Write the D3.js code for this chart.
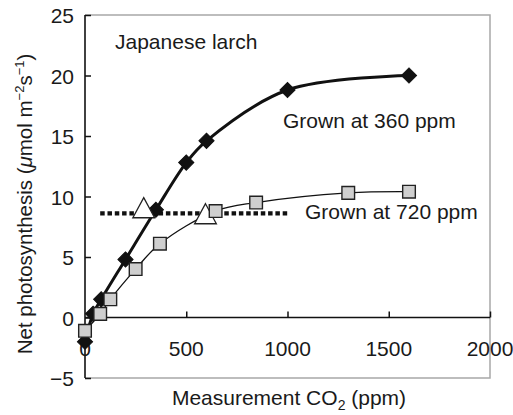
<!DOCTYPE html>
<html>
<head>
<meta charset="utf-8">
<script src="https://cdn.jsdelivr.net/npm/d3@7/dist/d3.min.js"></script>
<style>
  html, body { margin: 0; padding: 0; background: #fff; }
  svg { display: block; }
  text { font-family: "Liberation Sans", Arial, Helvetica, sans-serif; fill: #1a1a1a; }
</style>
</head>
<body>
<svg id="chart" width="513" height="415"></svg>
<script>
// ---- data ----
const grown360X = [0, 40, 80, 200, 350, 500, 600, 1000, 1600];
const grown360Y = [-2.0, 0.3, 1.5, 4.8, 8.9, 12.8, 14.6, 18.8, 20.0];
const grown720X = [0, 75, 125, 250, 370, 645, 845, 1300, 1600];
const grown720Y = [-1.1, 0.3, 1.5, 4.0, 6.1, 8.8, 9.5, 10.3, 10.4];
const triangleX = [290, 595];
const triangleY = [8.8, 8.3];
const refLineX = [75, 1000];
const refLineY = [8.6, 8.6];
const xTicks = [0, 500, 1000, 1500, 2000];
const yTicks = [-5, 0, 5, 10, 15, 20, 25];
const xTickLabels = ["0", "500", "1000", "1500", "2000"];
const yTickLabels = ["\u22125", "0", "5", "10", "15", "20", "25"];

const svg = d3.select("#chart");
const FS = 21;

const x = d3.scaleLinear().domain([0, 2000]).range([85, 490]);
const y = d3.scaleLinear().domain([-5, 25]).range([378, 15]);

// frame (gray top/right/bottom)
svg.append("path")
  .attr("d", `M${x(0)},${y(25)}H${x(2000)}V${y(-5)}H${x(0)}`)
  .attr("fill", "none").attr("stroke", "#a8a8a8").attr("stroke-width", 1.5);

// y axis (ticks inward)
const yAxis = d3.axisRight(y).tickValues(yTicks).tickSize(6).tickFormat("");
const gy = svg.append("g").attr("transform", `translate(${x(0)},0)`).call(yAxis);
gy.select(".domain").attr("stroke", "#111").attr("stroke-width", 1.6).attr("d", `M0,${y(25)}V${y(-5)}`);
gy.selectAll(".tick line").attr("stroke", "#111").attr("stroke-width", 1.5);
svg.selectAll(".ylab").data(yTicks).enter().append("text")
  .attr("x", 74).attr("y", d => y(d) + 8)
  .attr("text-anchor", "end").attr("font-size", FS)
  .text((d, i) => yTickLabels[i]);

// x axis at y=0 (ticks pointing up)
const xAxis = d3.axisTop(x).tickValues(xTicks.filter(d => d > 0)).tickSize(6).tickFormat("");
const gx = svg.append("g").attr("transform", `translate(0,${y(0)})`).call(xAxis);
gx.select(".domain").attr("stroke", "#111").attr("stroke-width", 1.6).attr("d", `M${x(0)},0H${x(2000)}`);
gx.selectAll(".tick line").attr("stroke", "#111").attr("stroke-width", 1.5);
svg.selectAll(".xlab").data(xTicks).enter().append("text")
  .attr("x", d => x(d)).attr("y", 356)
  .attr("text-anchor", "middle").attr("font-size", FS)
  .text((d, i) => xTickLabels[i]);

// dotted reference line
svg.append("line")
  .attr("x1", x(refLineX[0])).attr("x2", x(refLineX[1]))
  .attr("y1", y(refLineY[0])).attr("y2", y(refLineY[1]))
  .attr("stroke", "#111").attr("stroke-width", 4.3).attr("stroke-dasharray", "4.5,2.8");

const curve = d3.curveCatmullRom.alpha(0.5);
const d360 = grown360X.map((v, i) => [v, grown360Y[i]]);
const d720 = grown720X.map((v, i) => [v, grown720Y[i]]);
const line = d3.line().x(d => x(d[0])).y(d => y(d[1])).curve(curve);

// 720 line
svg.append("path").attr("d", line(d720)).attr("fill", "none")
  .attr("stroke", "#111").attr("stroke-width", 1.3);
// 360 line
svg.append("path").attr("d", line(d360)).attr("fill", "none")
  .attr("stroke", "#111").attr("stroke-width", 3);

// diamonds
const diamond = d3.symbol().type(d3.symbolSquare).size(115);
svg.selectAll(".dia").data(d360).enter().append("path")
  .attr("d", diamond)
  .attr("transform", d => `translate(${x(d[0])},${y(d[1])}) rotate(45)`)
  .attr("fill", "#111").attr("stroke", "#111").attr("stroke-width", 1);

// triangles
const tri = d3.symbol().type(d3.symbolTriangle).size(175);
svg.selectAll(".tri").data(triangleX.map((v, i) => [v, triangleY[i]])).enter().append("path")
  .attr("d", tri)
  .attr("transform", d => `translate(${x(d[0])},${y(d[1])}) scale(1.08,1.15)`)
  .attr("fill", "#fff").attr("stroke", "#222").attr("stroke-width", 1.2);

// squares
const sq = d3.symbol().type(d3.symbolSquare).size(160);
svg.selectAll(".sq").data(d720).enter().append("path")
  .attr("d", sq)
  .attr("transform", d => `translate(${x(d[0])},${y(d[1])})`)
  .attr("fill", "#cfcfcf").attr("stroke", "#222").attr("stroke-width", 1.4);

// annotations
svg.append("text").attr("x", 115).attr("y", 49).attr("font-size", FS).text("Japanese larch");
svg.append("text").attr("x", 283).attr("y", 128).attr("font-size", FS).text("Grown at 360 ppm");
svg.append("text").attr("x", 305).attr("y", 219).attr("font-size", FS).text("Grown at 720 ppm");

// x axis title
const xt = svg.append("text").attr("x", 289).attr("y", 405).attr("text-anchor", "middle").attr("font-size", FS);
xt.append("tspan").text("Measurement CO");
xt.append("tspan").attr("font-size", 14).attr("dy", 5).text("2");
xt.append("tspan").attr("dy", -5).text(" (ppm)");

// y axis title
const yt = svg.append("text").attr("transform", "translate(32,204) rotate(-90)")
  .attr("text-anchor", "middle").attr("font-size", 20.5);
yt.append("tspan").text("Net photosynthesis (");
yt.append("tspan").attr("font-style", "italic").text("\u03bc");
yt.append("tspan").text("mol m");
yt.append("tspan").attr("font-size", 13).attr("dy", -8).text("\u22122");
yt.append("tspan").attr("dy", 8).text("s");
yt.append("tspan").attr("font-size", 13).attr("dy", -8).text("\u22121");
yt.append("tspan").attr("dy", 8).text(")");
</script>
</body>
</html>
